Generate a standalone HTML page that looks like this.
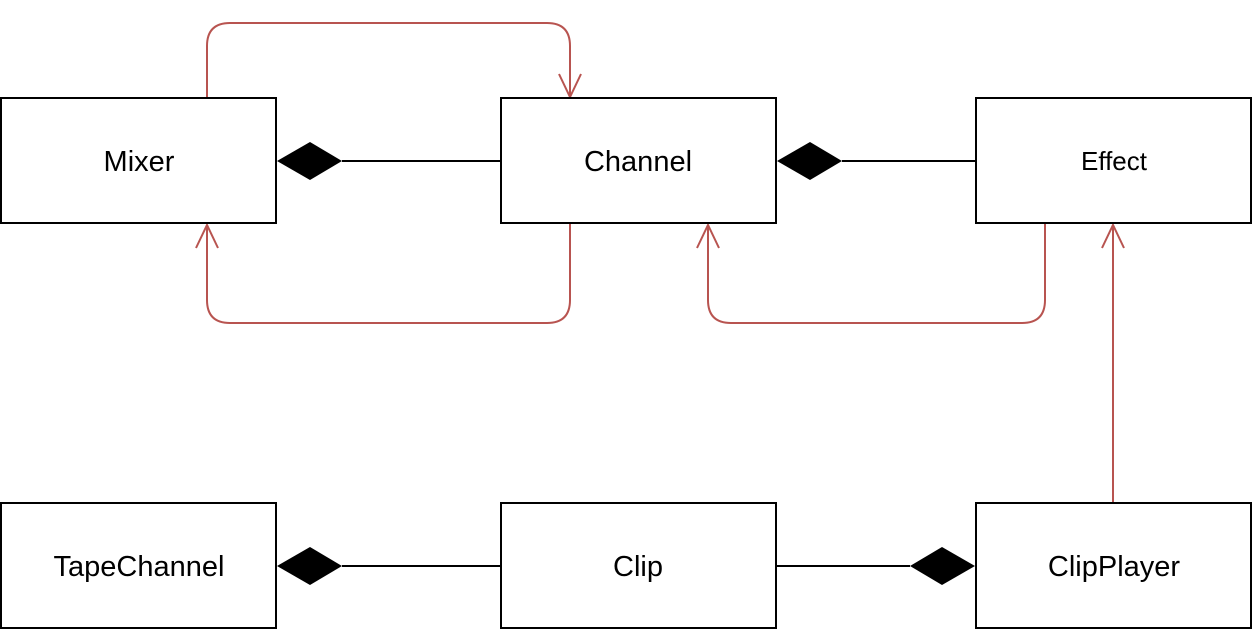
<!DOCTYPE html>
<html><head><meta charset="utf-8"><style>
html,body{margin:0;padding:0;background:#fff;}
svg{display:block;}
text{font-family:"Liberation Sans",Arial,sans-serif;fill:#000;}
</style></head><body>
<svg width="1253" height="635" viewBox="0 0 1253 635" xmlns="http://www.w3.org/2000/svg">
<g fill="none" stroke="#b85450" stroke-width="2">
<path d="M207 98 V46 Q207 23 230 23 H547 Q570 23 570 46 V97"/>
<path d="M559 74 L570 97 L581 74"/>
<path d="M570 223 V300 Q570 323 547 323 H230 Q207 323 207 300 V225"/>
<path d="M196 248 L207 225 L218 248"/>
<path d="M1045 223 V300 Q1045 323 1022 323 H731 Q708 323 708 300 V225"/>
<path d="M697 248 L708 225 L719 248"/>
<path d="M1113 503 V225"/>
<path d="M1102 248 L1113 225 L1124 248"/>
</g>
<g fill="#fff" stroke="#000" stroke-width="2">
<rect x="1" y="98" width="275" height="125"/>
<rect x="501" y="98" width="275" height="125"/>
<rect x="976" y="98" width="275" height="125"/>
<rect x="1" y="503" width="275" height="125"/>
<rect x="501" y="503" width="275" height="125"/>
<rect x="976" y="503" width="275" height="125"/>
</g>
<g stroke="#000" stroke-width="2">
<line x1="342" y1="161" x2="501" y2="161"/>
<line x1="842" y1="161" x2="976" y2="161"/>
<line x1="342" y1="566" x2="501" y2="566"/>
<line x1="776" y1="566" x2="910" y2="566"/>
</g>
<g fill="#000">
<polygon points="277,161 310,142 342,161 310,180"/>
<polygon points="777,161 810,142 842,161 810,180"/>
<polygon points="277,566 310,547 342,566 310,585"/>
<polygon points="975,566 942,547 910,566 942,585"/>
</g>
<g text-anchor="middle" font-size="29">
<text x="139" y="171">Mixer</text>
<text x="638" y="171">Channel</text>
<text x="1114" y="170" font-size="26">Effect</text>
<text x="139" y="576">TapeChannel</text>
<text x="638" y="576">Clip</text>
<text x="1114" y="576">ClipPlayer</text>
</g>
</svg>
</body></html>
